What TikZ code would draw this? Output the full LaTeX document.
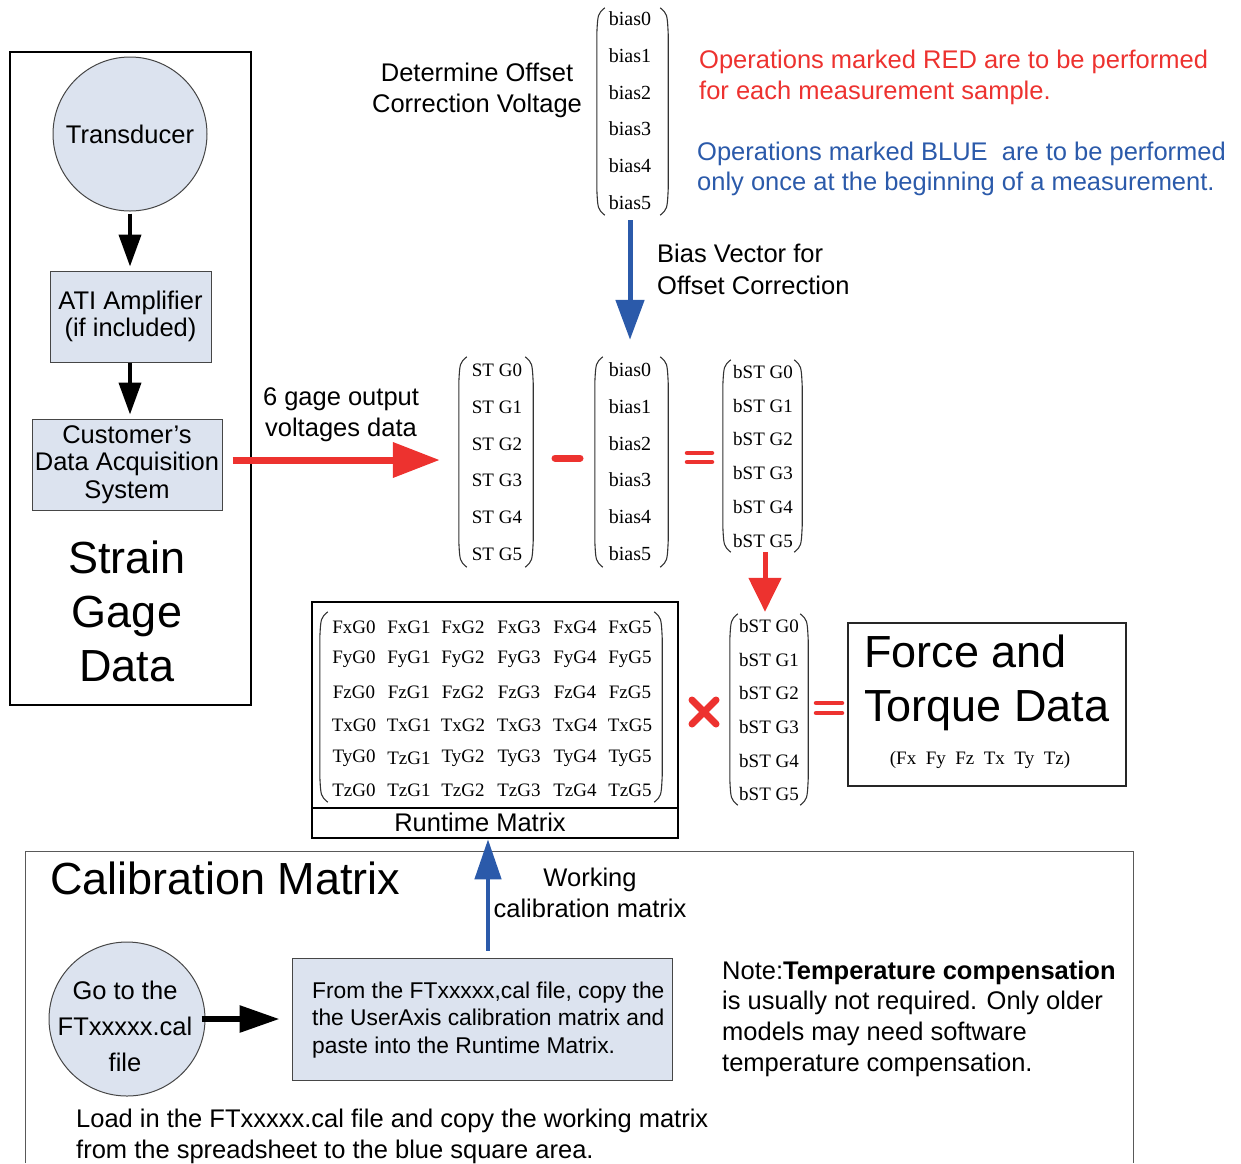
\documentclass[tikz,border=0pt]{standalone}
\usepackage{fontspec}
\setmainfont{Liberation Sans}
\newfontfamily\tms{Liberation Serif}
\usetikzlibrary{arrows.meta,shapes.geometric}
\definecolor{boxfill}{RGB}{220,227,239}
\definecolor{myred}{RGB}{237,50,47}
\definecolor{myblue}{RGB}{43,90,170}
\definecolor{edge}{RGB}{70,70,70}
\newcommand\fs[2]{\fontsize{#1}{#2}\selectfont}
\newcommand\vparens[1]{%
 \draw[paren] ([xshift=8pt]#1.north west) .. controls ([xshift=1pt,yshift=-6pt]#1.north west) .. ([yshift=-26pt]#1.north west) -- ([yshift=26pt]#1.south west) .. controls ([xshift=1pt,yshift=6pt]#1.south west) .. ([xshift=8pt]#1.south west);
 \draw[paren] ([xshift=-8pt]#1.north east) .. controls ([xshift=-1pt,yshift=-6pt]#1.north east) .. ([yshift=-26pt]#1.north east) -- ([yshift=26pt]#1.south east) .. controls ([xshift=-1pt,yshift=6pt]#1.south east) .. ([xshift=-8pt]#1.south east);}
\tikzset{
  txt/.style={font=\fs{25.5}{31}, align=center, inner sep=0pt, yshift=-2.5pt},
  txtl/.style={font=\fs{25.5}{31}, align=left, inner sep=0pt, anchor=west, yshift=-2.5pt},
  big/.style={font=\fs{45}{54}, align=center, inner sep=0pt},
  tm/.style={font=\tms\fs{19}{19}, inner sep=0pt},
  tmb/.style={font=\tms\fs{20}{20}, inner sep=0pt},
  vframe/.style={inner sep=0pt, draw=none},
  paren/.style={draw=black!80, line width=1.1pt},
  bluebox/.style={draw=edge, line width=1pt, fill=boxfill, inner sep=0pt},
  blkarrow/.style={line width=4pt, -{Triangle[length=32pt,width=22pt]}, shorten >=4pt},
}
\begin{document}
\begin{tikzpicture}[x=1pt,y=-1pt]
\useasboundingbox (0,0) rectangle (1241,1163);

% ---------- Strain gage frame ----------
\node[draw, line width=2pt, minimum width=241pt, minimum height=653pt, inner sep=0pt] (sgframe) at (130.5,378.5) {};
\node[circle, bluebox, minimum size=154pt, font=\fs{25.5}{31}] (trans) at (130,134) {Transducer};
\node[bluebox, minimum width=161pt, minimum height=91pt, align=center, font=\fs{25.5}{27}] (ati) at (130.5,316.5) {ATI Amplifier\\(if included)};
\node[bluebox, minimum width=190pt, minimum height=91pt, align=center, font=\fs{25.5}{27.5}] (daq) at (127,464.5) {Customer's\\Data Acquisition\\System};
\node[big] (sgd) at (127,611) {Strain\\Gage\\Data};
\draw[blkarrow, shorten <=2pt] (trans.south) -- (trans.south |- ati.north);
\draw[blkarrow] (ati.south -| trans.south) -- (trans.south |- daq.north);

% ---------- top texts ----------
\node[txt] (det) at (477,87.5) {Determine Offset\\Correction Voltage};
\node[txtl, text=myred] (redtxt) at (699,74.5) {Operations marked RED are to be performed\\for each measurement sample.};
\node[txtl, text=myblue, font=\fs{25.5}{30}] (bluetxt) at (697,166) {Operations marked BLUE\ \ are to be performed\\only once at the beginning of a measurement.};
\node[txtl, font=\fs{25.5}{32}] (bvtxt) at (657,267) {Bias Vector for\\Offset Correction};
\node[txt] (gagetxt) at (341,412.5) {6 gage output\\voltages data};

% ---------- top bias vector ----------
\node[vframe, minimum width=71pt, minimum height=207pt] (vbt) at (632.5,111.5) {};
\vparens{vbt}
\foreach \i/\y in {0/19,1/56,2/93,3/129,4/166,5/203}
  \node[tmb] (bt\i) at (630,\y) {bias\i};

% ---------- middle row ----------
\node[vframe, minimum width=74pt, minimum height=210pt] (vst) at (496,462) {};
\vparens{vst}
\node[vframe, minimum width=73pt, minimum height=210pt] (vbias) at (631.5,462) {};
\vparens{vbias}
\node[vframe, minimum width=79pt, minimum height=192pt] (vb1) at (762.5,456) {};
\vparens{vb1}
\foreach \i/\y in {0/370,1/407,2/444,3/480,4/517,5/554}{
  \node[tm] (st\i) at (497,\y) {ST G\i};
  \node[tmb] (bi\i) at (630,\y) {bias\i};
}
\foreach \i/\y in {0/372,1/406,2/439,3/473,4/507,5/541}
  \node[tm] (bsa\i) at (763,\y) {bST G\i};
\draw[myred, line width=7pt, line cap=round] (555,458) -- (580,458);
\draw[myred, line width=4.5pt, line cap=round] (687,453) -- (712,453);
\draw[myred, line width=4.5pt, line cap=round] (687,462) -- (712,462);

% ---------- arrows ----------
\draw[myred, line width=7pt, -{Triangle[length=47pt,width=34pt]}, shorten <=10pt, shorten >=19pt] ([yshift=4.5pt]daq.east) -- ([yshift=4.5pt]daq.east -| vst.west);
\draw[myblue, line width=5pt, -{Triangle[length=40pt,width=28pt]}, shorten <=5pt, shorten >=17pt] ([xshift=-2.5pt]vbt.south) -- ([xshift=-2.5pt]vbt.south |- vbias.north);

% ---------- runtime matrix ----------
\node[draw, line width=2.5pt, minimum width=366pt, minimum height=206pt, inner sep=0pt] (rt) at (495,705) {};
\node[draw, line width=2.5pt, minimum width=366pt, minimum height=30pt, inner sep=0pt] (rtl) at (495,823) {};
\node[inner sep=0pt, font=\fs{25.5}{31}] (rtltxt) at (480,822) {Runtime Matrix};
\node[vframe, minimum width=342pt, minimum height=190pt] (mr) at (491,707) {};
\vparens{mr}
\foreach \r/\y/\rowA/\rowB/\rowC/\rowD/\rowE/\rowF in {
  1/627/FxG0/FxG1/FxG2/FxG3/FxG4/FxG5,
  2/659/FyG0/FyG1/FyG2/FyG3/FyG4/FyG5,
  3/692/FzG0/FzG1/FzG2/FzG3/FzG4/FzG5,
  4/725/TxG0/TxG1/TxG2/TxG3/TxG4/TxG5,
  5/758/TyG0/TzG1/TyG2/TyG3/TyG4/TyG5,
  6/790/TzG0/TzG1/TzG2/TzG3/TzG4/TzG5}{
  \node[tm] (m\r a) at (354,\y) {\rowA};
  \node[tm] (m\r b) at (409,\y) {\rowB};
  \node[tm] (m\r c) at (463,\y) {\rowC};
  \node[tm] (m\r d) at (519,\y) {\rowD};
  \node[tm] (m\r e) at (575,\y) {\rowE};
  \node[tm] (m\r f) at (630,\y) {\rowF};
}
\draw[myred, line width=7pt, line cap=round] (692,700) -- (716,724);
\draw[myred, line width=7pt, line cap=round] (692,724) -- (716,700);
\node[vframe, minimum width=78pt, minimum height=191pt] (vb2) at (769,709.5) {};
\vparens{vb2}
\foreach \i/\y in {0/626,1/660,2/693,3/727,4/761,5/794}
  \node[tm] (bsb\i) at (769,\y) {bST G\i};
\draw[myred, line width=4.5pt, line cap=round] (816,703) -- (842,703);
\draw[myred, line width=4.5pt, line cap=round] (816,713) -- (842,713);
\draw[myred, line width=5pt, -{Triangle[length=34pt,width=32pt]}, shorten >=2pt] ([xshift=2.5pt]vb1.south) -- ([xshift=2.5pt]vb1.south |- vb2.north);

% ---------- force and torque ----------
\node[draw=black!85, line width=1.5pt, minimum width=278pt, minimum height=163pt, inner sep=0pt] (ft) at (987,704.5) {};
\node[big, align=left, anchor=west] (fttxt) at (864,682.5) {Force and\\Torque Data};
\node[tm] (ftsub) at (980,760) {(Fx\ \ Fy\ \ Fz\ \ Tx\ \ Ty\ \ Tz)};

% ---------- calibration ----------
\draw[draw=black!65, line width=1pt] (25,1163) -- (25,851) -- (1133,851) -- (1133,1163);
\node[big, anchor=west] (caltitle) at (50,878) {Calibration Matrix};
\node[txt] (worktxt) at (590,890) {Working\\calibration matrix};
\node[ellipse, bluebox, minimum width=156pt, minimum height=154pt] (goto) at (127,1019) {};
\node[inner sep=0pt, align=center, font=\fs{25.5}{36}] (gototxt) at (125,1026) {Go to the\\FTxxxxx.cal\\file};
\node[bluebox, minimum width=380pt, minimum height=122pt] (calbox) at (482,1019) {};
\node[align=left, anchor=west, inner sep=0pt, font=\fs{22.8}{27.5}] (caltxt) at (312,1020) {From the FTxxxxx,cal file, copy the\\the UserAxis calibration matrix and\\paste into the Runtime Matrix.};
\draw[line width=6pt, -{Triangle[length=40pt,width=26pt]}, shorten <=-4pt, shorten >=12pt] (goto.east) -- (calbox.west);
\draw[myblue, line width=4.5pt, -{Triangle[length=40pt,width=26pt]}, shorten <=7pt] ([xshift=6pt]calbox.north) -- ([xshift=6pt]calbox.north |- rtl.south);
\node[txtl, font=\fs{25.5}{30.7}] (note) at (722,1016) {Note:\textbf{Temperature compensation}\\is usually not required. Only older\\models may need software\\temperature compensation.};
\node[txtl] (loadtxt) at (76,1133.5) {Load in the FTxxxxx.cal file and copy the working matrix\\from the spreadsheet to the blue square area.};
\end{tikzpicture}
\end{document}
